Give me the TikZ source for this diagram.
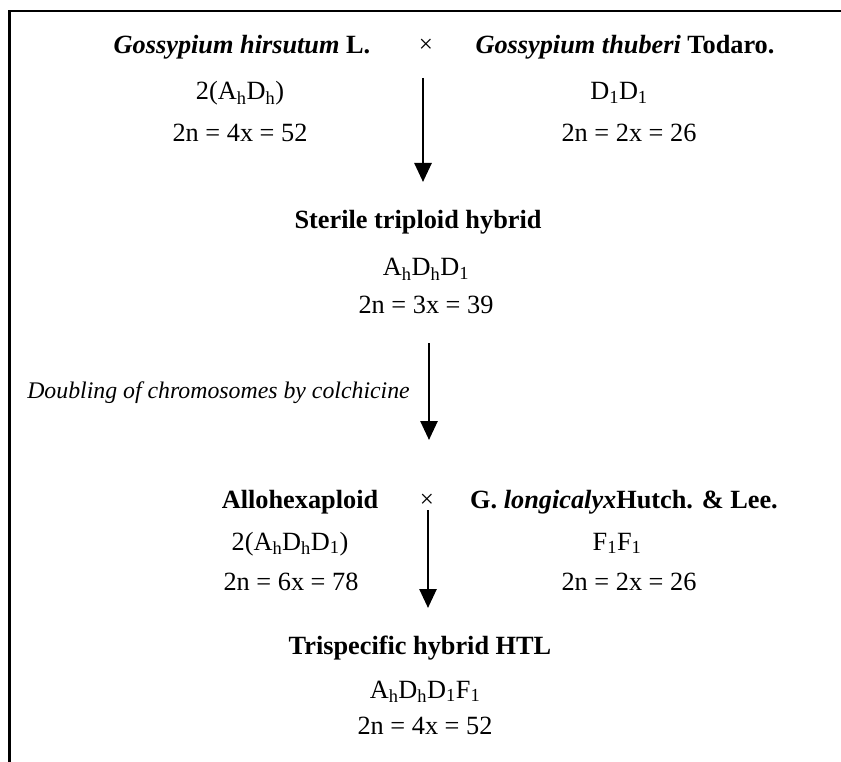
\documentclass[tikz,border=0pt]{standalone}
\usepackage{fontspec}
\setmainfont{Liberation Serif}
\usetikzlibrary{arrows.meta}
\begin{document}
\begin{tikzpicture}[x=1pt,y=-1pt,
  txt/.style={anchor=base,inner sep=0pt,font=\fontsize{26.3}{31}\selectfont},
  itxt/.style={inner sep=0pt,font=\fontsize{23.8}{28}\selectfont\itshape},
  crossmark/.style={anchor=base,inner sep=0pt,font=\fontsize{25}{30}\selectfont},
  flow/.style={line width=2.6pt,-{Triangle[width=17pt,length=19pt]}},
  frame/.style={line width=2.6pt}]
\useasboundingbox (0,0) rectangle (841,762);
% frame
\coordinate (ftl) at (9.5,11);
\coordinate (ftr) at (841,11);
\coordinate (fbl) at (9.5,762);
\draw[frame] (ftr) -- (ftl) -- (fbl);
% first cross
\node[txt] (hirs) at (242,54) {\textbf{\textit{Gossypium hirsutum}} \textbf{L.}};
\node[crossmark] (x1) at (426,53) {×};
\node[txt] (thub) at (625,54) {\textbf{\textit{Gossypium thuberi}} \textbf{Todaro.}};
\node[txt] (g1) at (240,100) {2(A\textsubscript{h}D\textsubscript{h})};
\node[txt] (g2) at (619,100) {D\textsubscript{1}D\textsubscript{1}};
\node[txt] (c1) at (240,142) {2n = 4x = 52};
\node[txt] (c2) at (629,142) {2n = 2x = 26};
\coordinate (a1s) at (423,78);
\coordinate (a1e) at (423,182);
\draw[flow] (a1s) -- (a1e);
% triploid
\node[txt] (steril) at (418,229) {\textbf{Sterile triploid hybrid}};
\node[txt] (g3) at (426,276) {A\textsubscript{h}D\textsubscript{h}D\textsubscript{1}};
\node[txt] (c3) at (426,313) {2n = 3x = 39};
\coordinate (a2s) at (429,343);
\coordinate (a2e) at (429,440);
\draw[flow] (a2s) -- (a2e);
\node[itxt,anchor=base east] (dbl) at (410,398) {Doubling of chromosomes by colchicine};
% second cross
\node[txt] (allo) at (300,508) {\textbf{Allohexaploid}};
\node[crossmark] (x2) at (427,507) {×};
\node[txt] (longi) at (624,508) {\textbf{G. \textit{longicalyx}Hutch. \& Lee.}};
\node[txt] (g4) at (290,550) {2(A\textsubscript{h}D\textsubscript{h}D\textsubscript{1})};
\node[txt] (g5) at (617,550) {F\textsubscript{1}F\textsubscript{1}};
\node[txt] (c4) at (291,590) {2n = 6x = 78};
\node[txt] (c5) at (629,590) {2n = 2x = 26};
\coordinate (a3s) at (428,510);
\coordinate (a3e) at (428,608);
\draw[flow] (a3s) -- (a3e);
% trispecific
\node[txt] (tri) at (420,654) {\textbf{Trispecific hybrid HTL}};
\node[txt] (g6) at (425,698) {A\textsubscript{h}D\textsubscript{h}D\textsubscript{1}F\textsubscript{1}};
\node[txt] (c6) at (425,734) {2n = 4x = 52};
\end{tikzpicture}
\end{document}
